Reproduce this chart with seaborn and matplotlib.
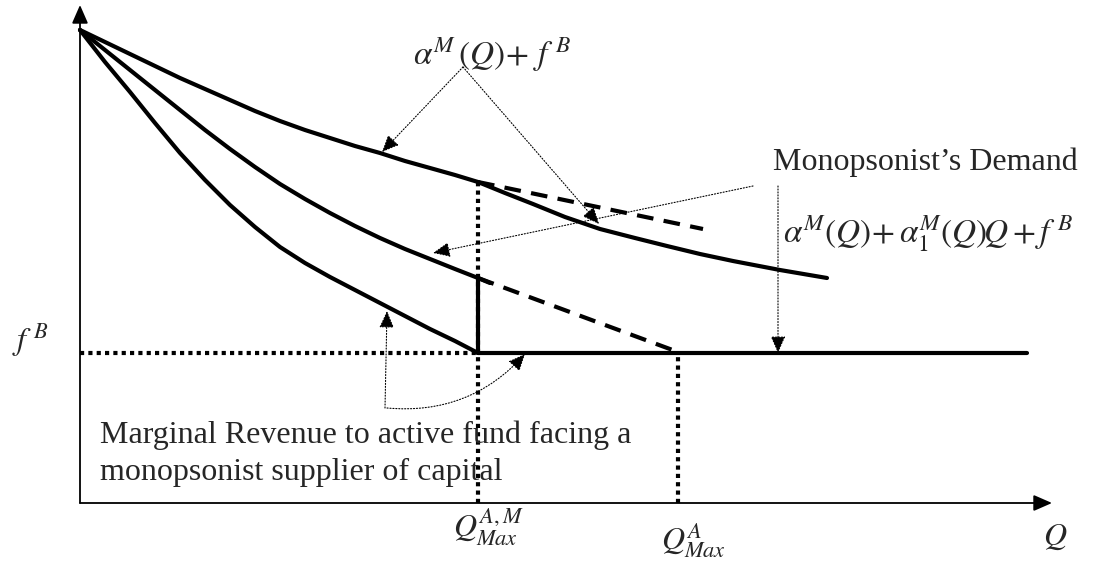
import numpy as np
import pandas as pd
import seaborn as sns
import matplotlib.pyplot as plt

sns.set_theme(style='white')
plt.rcParams['font.family'] = ['Liberation Serif', 'DejaVu Serif']
plt.rcParams['mathtext.fontset'] = 'stix'

# values (Q along the x-axis, price on the y-axis)
q_top = [0, 25, 50, 75, 100, 125, 150, 175, 200, 225, 250, 275, 300, 325, 350, 375, 398]
p_top = [473, 461, 449, 437, 425, 414, 403, 392, 382, 373, 365, 357, 350, 342, 335, 328, 321]
q_top_after = [398, 425, 453, 485, 520, 555, 587, 620, 653, 700, 747]
p_top_after = [321, 310, 299, 286, 274, 265, 257, 249, 242, 233, 225]
q_top_dash = [398, 623]
p_top_dash = [321, 274]

q_mid = [0, 25, 50, 75, 100, 125, 150, 175, 200, 225, 250, 275, 300, 325, 350, 375, 398, 410]
p_mid = [473, 453, 433, 413, 393, 373, 354, 336, 319, 304, 290, 277, 265, 254, 244, 234, 225, 220]
q_mid_dash = [398, 598]
p_mid_dash = [225, 151]

q_mr = [0, 25, 50, 75, 100, 125, 150, 175, 200, 225, 250, 275, 300, 325, 350, 375, 398]
p_mr = [473, 441, 411, 380, 350, 323, 298, 276, 256, 240, 226, 213, 200, 187, 174, 162, 150]

f_b = 150
q_max_am = 398
q_max_a = 598
q_flat_end = 947
q_axis_end = 972
p_axis_end = 498

fig = plt.figure(figsize=(10.96, 5.61), dpi=100)
ax = fig.add_axes([0, 0, 1, 1])
ax.set_xlim(-80, 1016)
ax.set_ylim(-58, 503)
ax.axis('off')

lw = 3
#Curves
sns.lineplot(x=q_top, y=p_top, color='black', lw=lw, ax=ax)
sns.lineplot(x=q_top_after, y=p_top_after, color='black', lw=lw, ax=ax)
sns.lineplot(x=q_mid, y=p_mid, color='black', lw=lw, ax=ax)
sns.lineplot(x=q_mr, y=p_mr, color='black', lw=lw, ax=ax)

dash = dict(color='black', lw=lw, dashes=(4, 2.5))
ax.plot(q_top_dash, p_top_dash, **dash)
ax.plot(q_mid_dash, p_mid_dash, **dash)

# solid pieces of marginal revenue
ax.plot([q_max_am, q_max_am], [f_b, p_mid_dash[0]], color='black', lw=lw)
ax.plot([q_max_am, q_flat_end], [f_b, f_b], color='black', lw=lw)

# dotted guide lines
dot = dict(color='black', lw=lw, linestyle=(0, (1, 1)), dash_capstyle='butt')
ax.plot([0, q_max_am], [f_b, f_b], **dot)
ax.plot([q_max_am, q_max_am], [0, p_top[-1]], **dot)
ax.plot([q_max_a, q_max_a], [0, f_b], **dot)

#Axes with arrows
axis_arrow = dict(arrowstyle='-|>,head_length=0.8,head_width=0.35', lw=1.3, color='black',
                  mutation_scale=14, shrinkA=0, shrinkB=0)
ax.annotate('', xy=(q_axis_end, 0), xytext=(0, 0), arrowprops=axis_arrow)
ax.annotate('', xy=(0, p_axis_end), xytext=(0, 0), arrowprops=axis_arrow)

#Leader arrows
lead = dict(arrowstyle='-|>,head_length=0.8,head_width=0.35', lw=0.8, linestyle=':',
            color='black', mutation_scale=13, shrinkA=0, shrinkB=0)
ax.annotate('', xy=(302, 351), xytext=(383, 436), arrowprops=lead)
ax.annotate('', xy=(519, 279), xytext=(383, 436), arrowprops=lead)
ax.annotate('', xy=(353, 250), xytext=(673, 317), arrowprops=lead)
ax.annotate('', xy=(698, f_b), xytext=(698, 317), arrowprops=lead)
ax.annotate('', xy=(307, 192), xytext=(305, 95), arrowprops=lead)
ax.annotate('', xy=(445, 149), xytext=(307, 95),
            arrowprops=dict(lead, connectionstyle='arc3,rad=0.25'))

#Labels
fs = 23
mfs = 24
ax.text(333, 438, r'$\alpha^{M}\,\left(Q\right)\!+\, f^{\;B}$', fontsize=mfs, ha='left', va='baseline')
ax.text(693, 333, 'Monopsonist\u2019s Demand', fontsize=fs, ha='left', va='baseline')
ax.text(703, 260, r'$\alpha^{M}\left(Q\right)\!+\alpha_1^{M}\left(Q\right)\!Q + f^{\;B}$',
        fontsize=mfs, ha='left', va='baseline')
ax.text(-50, 163, r'$f^{\;B}$', fontsize=fs, ha='center', va='center')
ax.text(20, 60, 'Marginal Revenue to active fund facing a', fontsize=fs, ha='left', va='baseline')
ax.text(20, 23, 'monopsonist supplier of capital', fontsize=fs, ha='left', va='baseline')
ax.text(408, -24, r'$Q^{A,M}_{Max}$', fontsize=fs, ha='center', va='center')
ax.text(613, -38, r'$Q^{A}_{Max}$', fontsize=fs, ha='center', va='center')
ax.text(975, -34, r'$Q$', fontsize=fs, ha='center', va='center')

plt.savefig('out.png', dpi=100)
